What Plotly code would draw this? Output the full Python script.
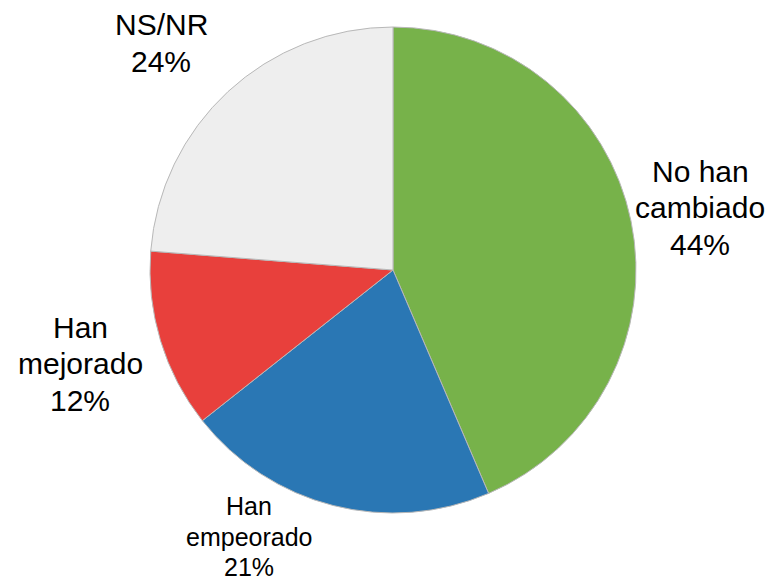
import plotly.graph_objects as go

# Data
categories = ["No han cambiado", "Han empeorado", "Han mejorado", "NS/NR"]
label_lines = [["No han", "cambiado"], ["Han", "empeorado"], ["Han", "mejorado"], ["NS/NR"]]
values = [44, 21, 12, 24]
colors = ["#77b24a", "#2a77b4", "#e8403c", "#eeeeee"]

# page has an 8px body margin; work in page pixels and convert
OFF = 8
W, H = 775 - OFF, 580 - OFF


def px_x(px):
    return (px - OFF) / W


def px_y(py):
    return 1 - (py - OFF) / H


cx, cy, r = 393, 270, 243

fig = go.Figure(go.Pie(
    labels=categories,
    values=values,
    sort=False,
    direction="clockwise",
    rotation=0,
    textinfo="none",
    hoverinfo="label+percent",
    marker=dict(colors=colors, line=dict(color="#b8b8b8", width=1)),
    domain=dict(x=[px_x(cx - r), px_x(cx + r)], y=[px_y(cy + r), px_y(cy - r)]),
    showlegend=False,
))

# label placement: x centre, y of first line centre, line spacing, font size (page pixels)
label_pos = [(700, 171, 36.5, 30), (249, 506, 30.5, 25), (80, 327, 36.5, 30), (161, 25, 36, 30)]

for lines, v, (px, py, dy, fs) in zip(label_lines, values, label_pos):
    all_lines = lines + [f"{v}%"]
    for i, t in enumerate(all_lines):
        fig.add_annotation(
            text=t,
            x=px_x(px), y=px_y(py + i * dy), xref="paper", yref="paper",
            xanchor="center", yanchor="middle", showarrow=False,
            font=dict(family="Liberation Sans, Arial, sans-serif", size=fs, color="#000000"),
        )

fig.update_layout(
    width=W, height=H,
    margin=dict(l=0, r=0, t=0, b=0),
    paper_bgcolor="white",
    plot_bgcolor="white",
)

fig.write_html("out.html")
